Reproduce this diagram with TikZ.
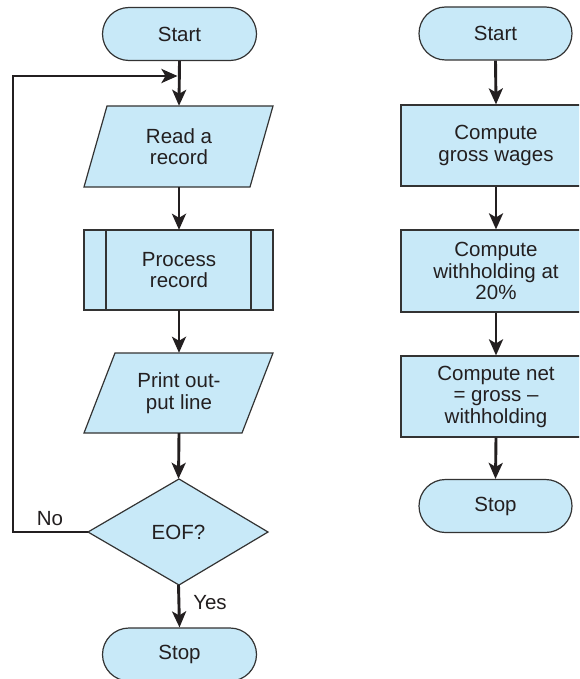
\documentclass[tikz,border=0pt]{standalone}
\usepackage{fontspec}
\setmainfont{Liberation Sans}
\usetikzlibrary{shapes.misc,arrows.meta}
\definecolor{boxfill}{HTML}{C8E9F8}
\definecolor{boxline}{HTML}{333333}
\definecolor{txtcol}{HTML}{231F20}
\tikzset{
  term/.style={rounded rectangle, draw=boxline, line width=1.2pt, fill=boxfill,
    minimum width=154pt, minimum height=53pt, inner sep=0pt},
  rectbox/.style={rectangle, draw=boxline, line width=1.2pt, fill=boxfill,
    minimum height=81pt, inner sep=0pt, align=center},
  shapebg/.style={draw=boxline, line width=1.2pt, fill=boxfill, line join=miter},
  holder/.style={rectangle, inner sep=0pt, align=center},
  arr/.style={draw=txtcol, line width=2.9pt, -{Stealth[length=16pt,width=14pt,inset=4pt]}},
  lbl/.style={inner sep=0pt, text=txtcol},
}
\begin{document}
\begin{tikzpicture}[x=1pt,y=-1pt,font=\fontsize{20.5}{21.5}\selectfont, text=txtcol]
\clip (0,0) rectangle (579,679);
\fill[white] (0,0) rectangle (579,679);

% ---------- left flowchart ----------
\node[term] (s1) at (179.5,34) {Start};

\path[shapebg] (84,187) -- (250,187) -- (273,106) -- (107,106) -- cycle;
\node[holder, minimum width=160pt, minimum height=81pt] (read) at (179,146.5) {Read a\\record};

\path[shapebg] (84,230) rectangle (273,310);
\draw[boxline, line width=1.2pt] (106,230) -- (106,310) (251,230) -- (251,310);
\node[holder, minimum width=189pt, minimum height=80pt] (proc) at (179,270) {Process\\record};

\path[shapebg] (84,433) -- (242,433) -- (273,353) -- (115,353) -- cycle;
\node[holder, minimum width=160pt, minimum height=80pt] (print) at (179,393) {Print out-\\put line};

\path[shapebg] (88,532) -- (179,479) -- (268,532) -- (179,585) -- cycle;
\node[holder, minimum width=180pt, minimum height=106pt] (eof) at (178.5,532) {EOF?};

\node[term] (t1) at (179.5,654.5) {Stop};

\coordinate (loopin) at (179,76);
\coordinate (loopcorner) at (13,532);

\draw[arr] (s1.south) -- (read.north);
\draw[arr] (read.south) -- (proc.north);
\draw[arr] (proc.south) -- (print.north);
\draw[arr] (print.south) -- (eof.north);
\draw[arr] (eof.south) -- (t1.north);
\draw[arr, shorten >=1.5pt] (eof.west) -- (loopcorner) |- (loopin);

\node[lbl] (no) at (50,519) {No};
\node[lbl] (yes) at (210,603) {Yes};

% ---------- right flowchart ----------
\node[term, minimum width=153pt] (s2) at (495.5,33.5) {Start};
\node[rectbox, minimum width=190pt, minimum height=81pt] (gross) at (496,145.5) {Compute\\gross wages};
\node[rectbox, minimum width=190pt, minimum height=82pt] (with) at (496,271) {Compute\\withholding at\\20\%};
\node[rectbox, minimum width=190pt, minimum height=81pt] (net) at (496,396.5) {Compute net\\= gross --\\withholding};
\node[term, minimum width=153pt] (t2) at (495.5,506) {Stop};

\draw[arr] (s2.south) -- (gross.north);
\draw[arr] (gross.south) -- (with.north);
\draw[arr] (with.south) -- (net.north);
\draw[arr] (net.south) -- (t2.north);
\end{tikzpicture}
\end{document}
